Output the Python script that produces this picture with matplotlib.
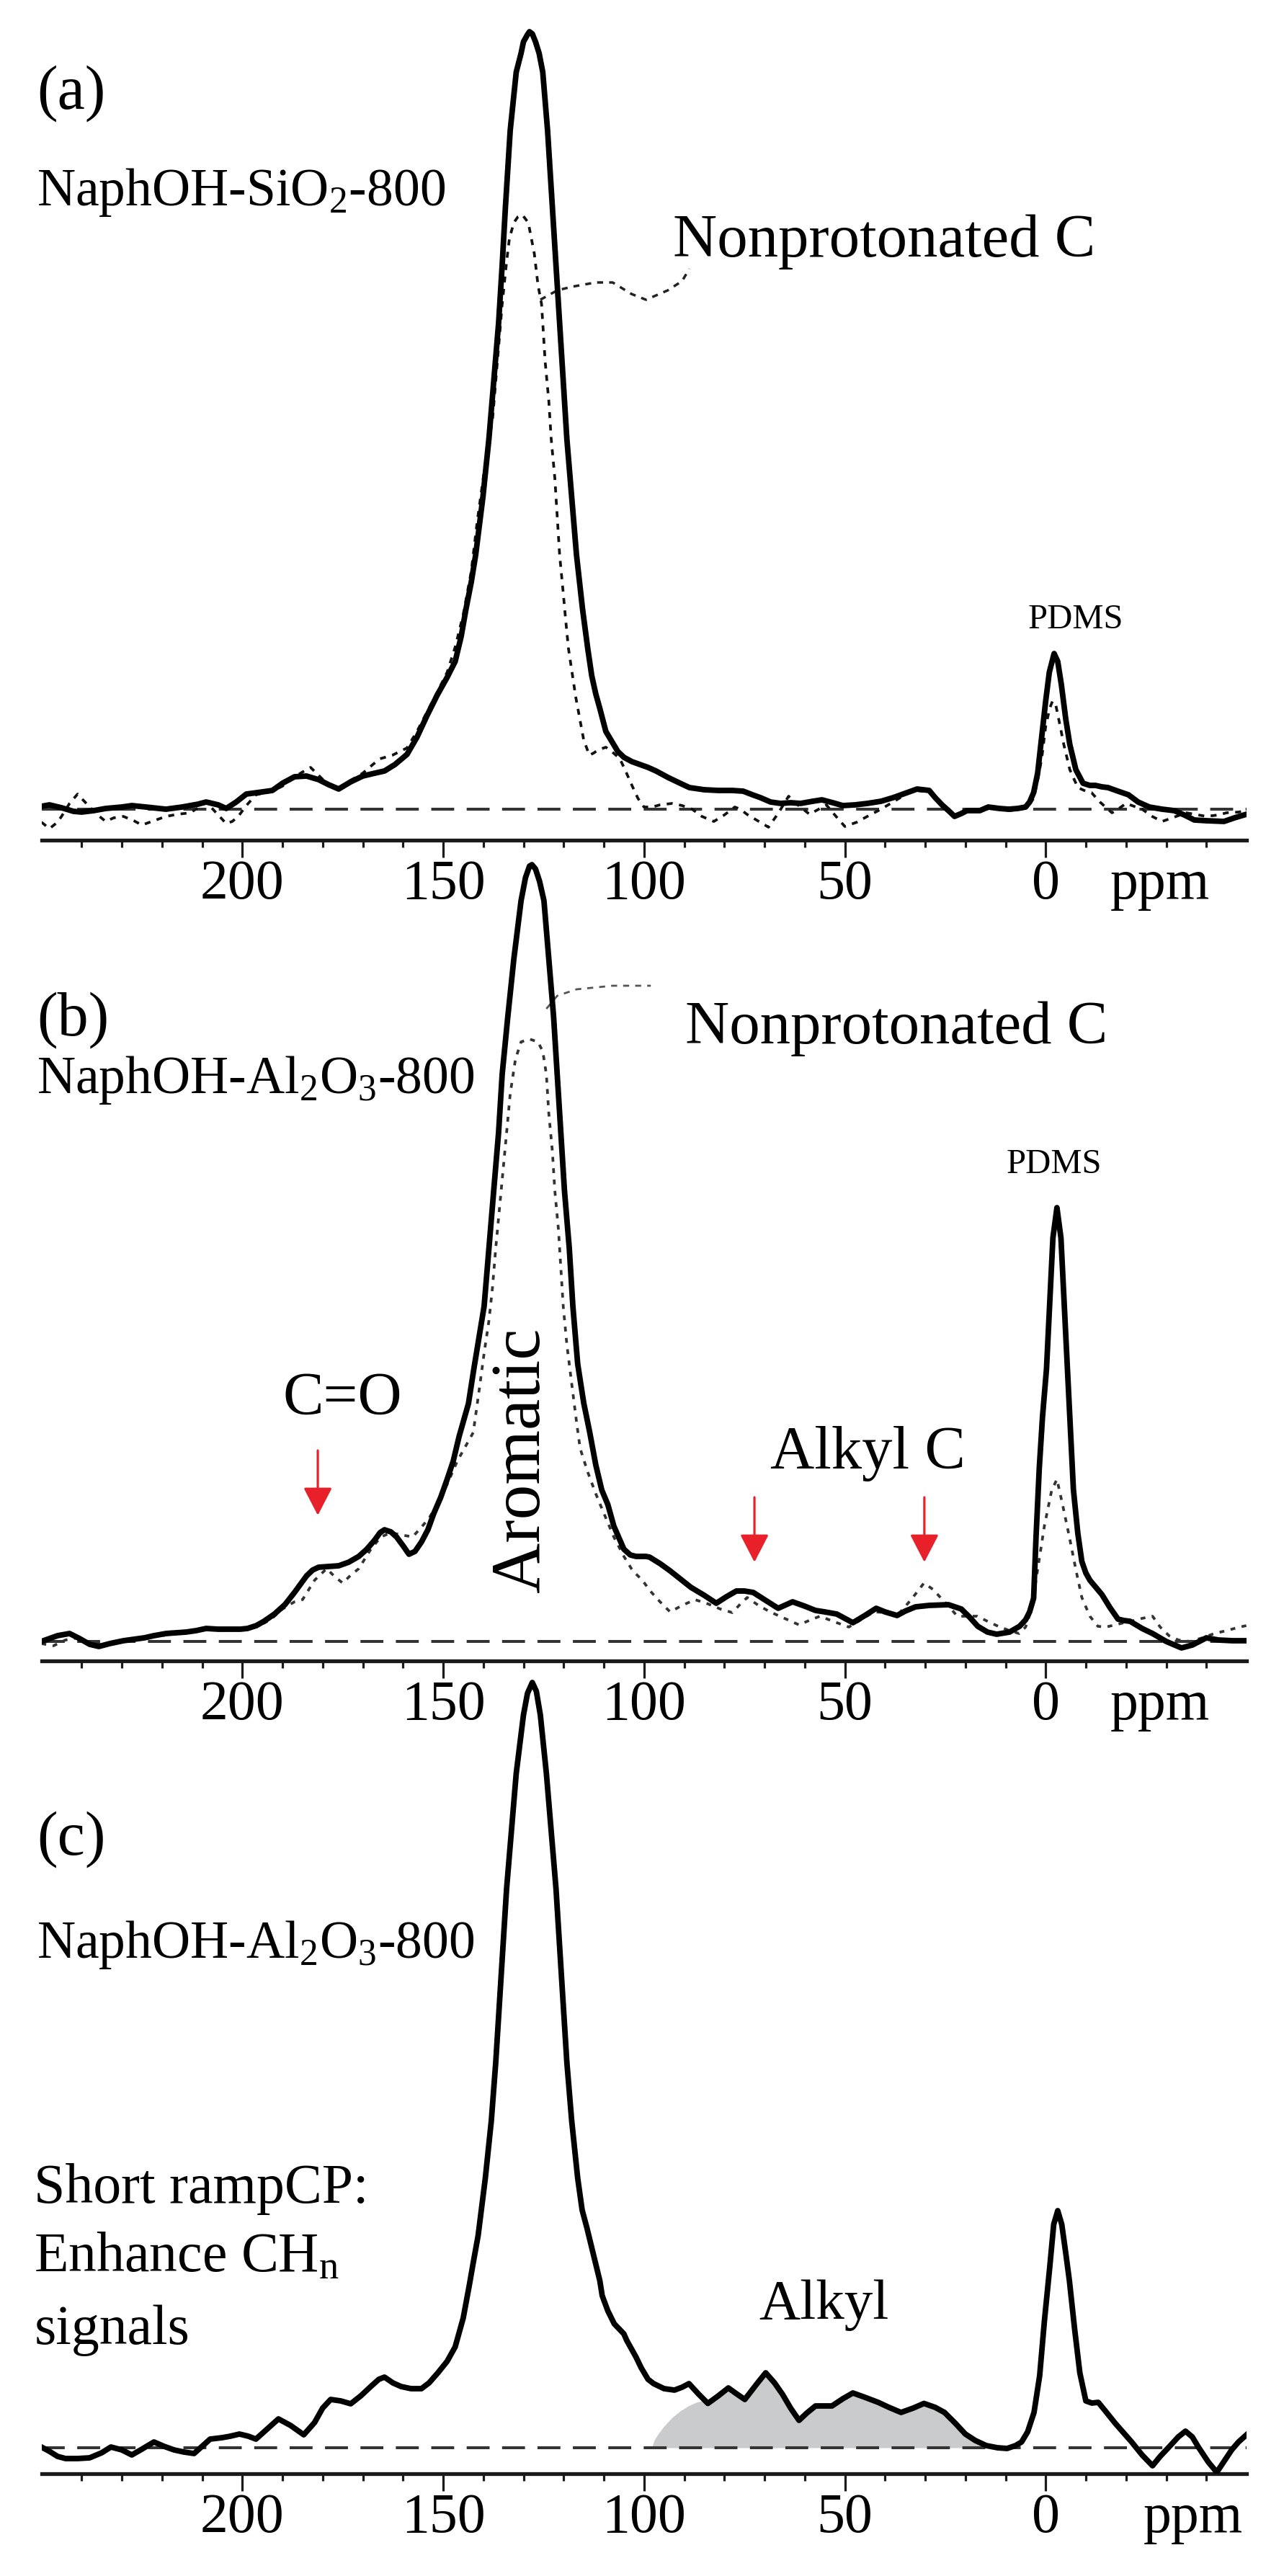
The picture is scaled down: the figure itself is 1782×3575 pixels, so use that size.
import matplotlib
matplotlib.use("Agg")
import matplotlib.pyplot as plt
import numpy as np

plt.rcParams['font.family'] = ['Liberation Serif', 'DejaVu Serif']
plt.rcParams['mathtext.fontset'] = 'custom'
plt.rcParams['mathtext.rm'] = 'Liberation Serif'
plt.rcParams['mathtext.it'] = 'Liberation Serif:italic'

# ---------------- data (ppm, intensity in arbitrary units) ----------------
a_solid_ppm = [250, 248, 245, 242, 240, 237, 234, 230, 227.5, 224, 219, 215, 211, 209, 206, 204, 201.5, 199, 195,
               192.5, 190, 187, 184, 181, 178.5, 176, 173, 170, 167, 164.6, 162, 159, 156.5, 154, 151.5, 149, 147,
               145.5, 144.3, 143, 141.9, 140.1, 138.6, 137.4, 136.2, 135.3, 134.5, 133.3, 131.8, 130.6, 130, 129,
               128.5, 127.8, 127, 126.1, 125.2, 124, 122.8, 121.9, 121, 120.1, 119.2, 118, 116.8, 115.3, 114, 113,
               112, 111, 109.5, 108, 106.5, 105, 103, 101, 99, 97, 94, 91, 88.7, 85, 81.5, 78, 75.3, 73, 71, 68.5,
               66, 63.5, 61, 58, 55.7, 53, 50.5, 47.5, 44.4, 41, 38, 35, 32, 29, 27.5, 25.8, 24, 22.7, 21, 19.6,
               16.4, 14.3, 11.5, 9.2, 7, 5, 4, 3, 2, 1.2, 0, -0.9, -2.1, -3, -3.9, -5, -6, -7.5, -9.3, -11, -12.4,
               -14, -15.5, -18, -20.6, -23, -25.8, -29, -32, -34.5, -37, -40, -44.4, -47, -50]
a_solid_int = [4, 6, 2, -3, -4, -2, 1, 3, 5, 3, 0, 3, 7, 10, 6, 1, 10, 21, 24,
               26, 36, 45, 46, 41, 34, 28, 38, 46, 50, 53, 62, 76, 100, 130, 158, 183, 205,
               240, 278, 315, 353, 433, 514, 594, 674, 755, 835, 942, 1023, 1049, 1065, 1075,
               1079, 1076, 1065, 1049, 1023, 942, 835, 755, 674, 594, 514, 433, 353, 278, 223, 185,
               160, 140, 108, 94, 80, 72, 66, 62, 58, 53, 44, 36, 30, 27, 26, 26, 25, 20, 16, 10,
               8, 9, 8, 11, 13, 9, 5, 6, 8, 11, 16, 22, 28, 26, 16, 6, -3, -10, -6, -2,
               -2, 3, 1, 0, 1, 3, 10, 23, 50, 90, 150, 190, 216, 205, 173, 125, 90, 55, 36, 33, 33,
               31, 30, 25, 20, 10, 3, 0, -2, -8, -15, -16, -17, -12, -7]

a_dash_ppm = [250, 248, 246, 245, 243, 241, 239.5, 238, 236, 234, 232, 229.6, 227, 225, 222, 219, 216, 213, 211,
              209, 206.5, 204, 202.5, 201, 199, 196.6, 192.5, 190, 188, 185.5, 183, 181, 179, 176, 173, 170,
              167.5, 165.7, 162.6, 159, 156.5, 154, 151.5, 149, 147, 145, 143, 141.5, 139.5, 137.7, 136.5,
              135.3, 134.2, 133.5, 132.4, 131.4, 130.3, 128.8, 127.3, 126.4, 125.5, 125.2, 124.6, 123.7, 123.1,
              122.2, 121.6, 121, 120.1, 119.5, 118.8, 117, 115, 113.6, 112.5, 111.5, 109.5, 108, 106, 104.5,
              103, 101.5, 100, 98, 96, 93, 90.5, 88, 85.6, 82.6, 80, 77.4, 76, 74.4, 72, 69, 66.5, 64, 61.5,
              58.8, 56.5, 54.6, 52.5, 50, 47, 44.4, 41, 38, 35, 32.5, 29, 27, 25.5, 23, 21, 19, 16, 13, 9, 6,
              4.5, 3, 2, 1, 0, -1, -1.7, -2.5, -3.5, -4.5, -6, -8, -10, -11.4, -13.5, -16.5, -18, -20, -22,
              -24, -26.5, -29, -31.5, -35, -38, -40, -43, -45, -48, -50]
a_dash_int = [-18, -27, -18, -10, 8, 21, 12, 3, -8, -17, -12, -10, -16, -22, -16, -10, -7, -5, 2,
              10, -5, -20, -17, -10, 5, 20, 25, 32, 40, 50, 58, 47, 36, 30, 40, 50,
              62, 70, 75, 85, 108, 135, 162, 190, 225, 270, 330, 400, 480, 541, 621,
              701, 760, 792, 814, 822, 825, 814, 771, 728, 701, 675, 621, 567, 514,
              460, 407, 353, 300, 263, 223, 156, 96, 75, 78, 82, 86, 80, 70, 52,
              33, 15, 3, 3, 6, 8, 5, 0, -10, -17, -8, 3, 0, -7, -15, -25, -5, 18, 5,
              -7, 0, 6, -8, -24, -18, -10, 0, 10, 20, 26, 24, 12, 3, -8, -7, -4, 0, 1, -2, 0,
              3, 15, 40, 70, 115, 140, 150, 145, 118, 90, 55, 30, 25, 23, 10, -5, 0, 8, 4,
              0, -10, -17, -12, -5, -8, -10, -8, -5, -4, -2]

b_solid_ppm = [250, 248, 246, 243, 240.5, 238, 235.7, 233, 229.6, 227, 224.4, 222, 219, 216.5, 214, 211.5, 209,
               206, 203, 200.5, 198.7, 196.5, 194.6, 192, 189.4, 187, 184, 182.5, 181, 178.5, 176, 173.5, 171,
               169, 167, 165.7, 164.6, 163, 161.6, 160, 158.5, 157, 155.4, 153.8, 152.3, 150.6, 149, 147.5, 146,
               143.7, 142.3, 139.8, 138.6, 137.4, 136.2, 135.3, 133.9, 132.4, 130.6, 129.5, 128.5, 127.9, 127,
               126, 124.9, 123.7, 122.5, 121.6, 120.7, 119.8, 118.6, 117.7, 116.5, 115, 113.5, 112, 110.5, 109,
               107.5, 105, 103.4, 102, 99.5, 98.6, 96, 93.5, 91, 88.3, 85, 82, 79.5, 77, 75, 72.8, 70, 66.6, 65,
               63, 60, 57.3, 55, 52, 50, 48, 45, 42.2, 40, 37, 35, 32.4, 29, 24.2, 21, 19, 16.9, 14.5, 12.2, 9,
               6.5, 5, 4, 3, 2.4, 1.6, 0.8, -0.2, -1, -1.8, -2.8, -3.8, -4.6, -5.4, -6.2, -6.9, -8, -9, -10, -11,
               -12.5, -14, -16, -18, -19.5, -21, -24, -26.6, -30, -33.8, -36.5, -40, -43, -46.5, -50]
b_solid_int = [0, 4, 8, 11, 4, -4, -7, -3, 1, 3, 5, 8, 11, 12, 13, 15, 18,
               17, 17, 17, 18, 22, 28, 38, 51, 68, 91, 99, 103, 104, 105, 110, 118,
               128, 141, 151, 155, 152, 145, 133, 121, 125, 138, 155, 178, 200, 225, 250, 285,
               330, 380, 465, 546, 626, 706, 787, 867, 947, 1028, 1060, 1076, 1078, 1072,
               1055, 1028, 947, 867, 787, 706, 626, 546, 465, 385, 331, 290, 245, 210, 190,
               160, 128, 120, 118, 118, 117, 108, 98, 87, 75, 64, 53, 62, 70, 70, 68, 58, 46, 50,
               55, 49, 43, 41, 38, 32, 26, 36, 46, 41, 36, 42, 48, 50, 51, 45, 34, 21, 13, 10, 13,
               21, 30, 41, 60, 145, 240, 311, 378, 470, 560, 602, 560, 470, 378, 290, 211, 150, 111, 95, 85,
               75, 65, 47, 31, 29, 28, 18, 11, 0, -9, -5, 5, 2, 1, 1]

b_dash_ppm = [250, 247, 244, 241, 238, 235, 231, 227, 224, 220, 216, 212, 208, 204, 200, 196.5, 193, 190, 187,
              185, 182, 179, 177, 175, 173, 171, 168, 165.5, 163, 160.5, 157.6, 155.5, 153.5, 151, 149, 146.5,
              142.5, 141, 139.8, 138.6, 137.7, 136.9, 136, 135.1, 134.2, 133.3, 132, 130.6, 128.5, 126.4, 125.2,
              124.3, 123.7, 122.8, 122.2, 121.3, 120.7, 120.1, 119.2, 118, 116.8, 115.9, 114, 112, 110, 107.5,
              105, 102.8, 100.4, 98.6, 96, 93.5, 90.5, 87.3, 84, 81, 78, 76, 74.3, 71.5, 68.6, 65, 61.4, 58.5,
              56.2, 52.5, 49, 46, 42.8, 39.5, 36.6, 33.5, 30.3, 28, 26.2, 24, 22, 19.5, 17, 14.5, 11.8, 9, 6.6,
              5, 3.5, 2, 0.3, -1.5, -2.8, -4.2, -5.9, -7.5, -9, -11, -13, -15, -17.3, -19.5, -21.3, -24, -26.6,
              -28.5, -30.7, -33, -36, -39, -42, -45, -48.3, -50]
b_dash_int = [-3, -6, 2, 5, -2, -4, 0, 3, 6, 8, 12, 15, 18, 15, 17, 20, 30, 45, 55,
              58, 85, 101, 90, 81, 92, 101, 128, 145, 151, 148, 145, 158, 171, 195, 218, 250,
              290, 350, 400, 445, 492, 546, 599, 653, 706, 760, 808, 832, 836, 832, 819,
              787, 733, 680, 626, 572, 519, 465, 412, 358, 305, 268, 235, 205, 178, 145,
              118, 98, 85, 71, 55, 41, 50, 58, 52, 45, 40, 52, 61, 50, 41, 32, 23, 30,
              35, 27, 20, 30, 41, 40, 38, 58, 81, 72, 61, 48, 35, 35, 35, 28, 21, 15, 11,
              20, 45, 100, 161, 210, 225, 190, 145, 100, 61, 35, 21, 20, 23, 26, 28, 32, 35,
              20, 8, 2, 0, 5, 11, 15, 20, 22]

c_solid_ppm = [250, 248, 246, 244, 241, 238, 235, 232.7, 230, 227.5, 225, 222, 219.5, 217, 214.5, 212, 210, 208,
               205, 203, 200.7, 198.5, 196.6, 194, 191, 188, 184.7, 182, 180, 178, 175.5, 173, 170.5, 168, 166,
               164.6, 162.5, 160.5, 158, 155.4, 153.5, 151.3, 149, 147, 145, 143.5, 142.5, 141.3, 139.5, 138,
               136.9, 136, 135.1, 134.2, 133, 131.8, 130, 129, 127.8, 126.8, 125.8, 124.3, 123.1, 121.9, 121,
               120.1, 119.2, 118, 116.5, 115.4, 114.2, 112, 111, 110.4, 109, 107.4, 105, 104.3, 102, 100.7, 99,
               97.6, 95, 92.4, 90.5, 88.8, 86.5, 84.1, 81.5, 79, 77, 74.9, 72, 69.7, 67.5, 65.5, 63.5, 61.4,
               59.5, 57.3, 55, 53.2, 50.5, 48, 45, 41.7, 39, 36, 33, 30.3, 27.5, 25.2, 22.5, 20, 17.5, 14.8, 12,
               9.6, 7.5, 6, 4.5, 2.9, 1.5, 0.3, -1, -2, -3, -4, -5, -5.9, -7.2, -8.5, -10, -11.5, -13.1, -15,
               -17.3, -19.5, -21.4, -24, -26.6, -28.5, -30.7, -33, -34.8, -36.5, -38, -40.5, -42.6, -44.5, -46.3,
               -48, -49.9]
c_solid_int = [1, -5, -12, -15, -15, -14, -7, 1, -3, -10, -2, 8, 2, -3, -6, -8, 2, 12,
               14, 16, 19, 16, 12, 25, 40, 31, 18, 35, 55, 67, 65, 61, 72, 85, 95,
               98, 90, 85, 82, 82, 90, 104, 120, 140, 180, 225, 257, 294, 374, 454,
               535, 615, 695, 776, 856, 936, 1017, 1047, 1062, 1050, 1017, 936, 856, 776, 695,
               615, 535, 454, 374, 330, 305, 255, 232, 211, 190, 172, 158, 149, 126, 111, 95,
               89, 82, 80, 84, 89, 75, 61.5, 72, 83, 75, 67, 88, 104, 90, 74, 55, 38,
               48, 58, 58, 58, 68, 76, 70, 63, 56, 49, 55, 61.5, 56, 49, 34, 19, 10, 3, 0,
               -1, 3, 8, 22, 49, 100, 177, 250, 310, 329, 310, 270, 232, 165, 104, 65, 62, 63, 50,
               34, 20, 8, -10, -25, -12, 1, 15, 23, 15, 1, -20, -34, -18, -3,
               8, 17.5]

# left shoulder of the shaded alkyl region (panel c)
c_fill_ppm = [98.1, 97.5, 96.5, 95, 93, 91, 89, 87, 85]
c_fill_int = [0, 10, 19, 30, 42, 51, 58, 63, 66]
c_fill_end = 14.8

major_ticks = [200, 150, 100, 50, 0]
major_labels = ['200', '150', '100', '50', '0']
minor_ticks = [240, 230, 220, 210, 190, 180, 170, 160, 140, 130, 120, 110, 90, 80, 70, 60,
               40, 30, 20, 10, -10, -20, -30, -40]

# ---------------- figure ----------------
W, H = 1782, 3575
fig = plt.figure(figsize=(W / 100, H / 100), dpi=100)

x_left, x_right = 57.5, 1730
YTOP = 1098

panels = {
    'a': dict(axis_y=1166, base_y=1123),
    'b': dict(axis_y=2305, base_y=2278),
    'c': dict(axis_y=3433, base_y=3397),
}

RED = '#e8202a'
SOLID_LW = 5.6


def make_axes(axis_y, base_y, ppm_x):
    bottom = -(axis_y - base_y)
    h_px = YTOP - bottom
    ax = fig.add_axes([x_left / W, 1 - axis_y / H, (x_right - x_left) / W, h_px / H])
    ax.set_xlim(250, -50)
    ax.set_ylim(bottom, YTOP)
    for s in ['top', 'left', 'right']:
        ax.spines[s].set_visible(False)
    ax.spines['bottom'].set_linewidth(3.8)
    ax.spines['bottom'].set_color('#1a1a1a')
    ax.set_yticks([])
    ax.set_xticks(major_ticks)
    ax.set_xticklabels(major_labels)
    ax.set_xticks(minor_ticks, minor=True)
    ax.tick_params(axis='x', which='major', direction='out', length=17.3, width=2.3,
                   labelsize=56, pad=2, color='#1a1a1a')
    ax.tick_params(axis='x', which='minor', direction='out', length=7, width=2.3, color='#1a1a1a')
    ax.patch.set_alpha(0)
    ax.axhline(0, color='#333333', lw=2.9, ls=(0, (7.9, 4.3)), zorder=1)
    ax.annotate('ppm', xy=(ppm_x, 0), xycoords=('data', 'axes fraction'),
                xytext=(0, -19.3), textcoords='offset points', ha='center', va='top',
                fontsize=56, annotation_clip=False)
    return ax


def red_arrow(ax, x, y0, y1):
    ax.annotate('', xy=(x, y1), xytext=(x, y0),
                arrowprops=dict(arrowstyle='-|>,head_length=1.2,head_width=0.62',
                                color=RED, lw=2.3, shrinkA=0, shrinkB=0, mutation_scale=20),
                annotation_clip=False)


# ---- panel (a)
ax = make_axes(panels['a']['axis_y'], panels['a']['base_y'], -28.5)
ax.plot(a_dash_ppm, a_dash_int, color='#111111', lw=2.7, ls=(0, (2.2, 2.4)), zorder=2)
ax.plot(a_solid_ppm, a_solid_int, color='black', lw=SOLID_LW, zorder=3, solid_joinstyle='round')
ax.plot([125.8, 121.6, 118.0, 112.0, 107.8, 103.1, 99.5, 94.1, 90.5, 88.7],
        [707, 720, 725, 731, 731, 715, 707, 720, 733, 750],
        color='#222222', lw=2.5, ls=(0, (2.4, 2.4)), zorder=2)
ax.text(251.2, 993, '(a)', fontsize=62, ha='left', va='center')
ax.text(251.2, 838, r'NaphOH-SiO$_{\mathrm{2}}$-800', fontsize=53, ha='left', va='baseline')
ax.text(40.2, 767, 'Nonprotonated C', fontsize=61, ha='center', va='baseline')
ax.text(-7.5, 251, 'PDMS', fontsize=35, ha='center', va='baseline')

# ---- panel (b)
ax = make_axes(panels['b']['axis_y'], panels['b']['base_y'], -28.5)
ax.plot(b_dash_ppm, b_dash_int, color='#333333', lw=2.7, ls=(0, (1.8, 2.4)), zorder=2)
ax.plot(b_solid_ppm, b_solid_int, color='black', lw=SOLID_LW, zorder=3, solid_joinstyle='round')
ax.plot([124.3, 121.6, 116.8, 107.8, 98.3], [878, 896, 905, 910, 910],
        color='#555555', lw=2.0, ls=(0, (3, 3)), zorder=2)
ax.text(251.2, 862, '(b)', fontsize=62, ha='left', va='center')
ax.text(251.2, 761, r'NaphOH-Al$_{\mathrm{2}}$O$_{\mathrm{3}}$-800', fontsize=53, ha='left', va='baseline')
ax.text(37.2, 830, 'Nonprotonated C', fontsize=61, ha='center', va='baseline')
ax.text(-2.1, 650, 'PDMS', fontsize=35, ha='center', va='baseline')
ax.text(175.1, 315, 'C=O', fontsize=61, ha='center', va='baseline')
ax.text(130.3, 252, 'Aromatic', fontsize=70, ha='center', va='center', rotation=90, zorder=4)
ax.text(44.2, 240, 'Alkyl C', fontsize=61, ha='center', va='baseline')
red_arrow(ax, 181.2, 265, 175)
red_arrow(ax, 72.5, 200, 110)
red_arrow(ax, 30.2, 200, 110)

# ---- panel (c)
ax = make_axes(panels['c']['axis_y'], panels['c']['base_y'], -36.7)
seg_ppm = [p for p in c_solid_ppm if c_fill_end <= p < c_fill_ppm[-1]]
seg_int = [v for p, v in zip(c_solid_ppm, c_solid_int) if c_fill_end <= p < c_fill_ppm[-1]]
ax.fill_between(c_fill_ppm + seg_ppm, 0, c_fill_int + seg_int, color='#c9cbcd', lw=0, zorder=0.5)
ax.plot(c_solid_ppm, c_solid_int, color='black', lw=SOLID_LW, zorder=3, solid_joinstyle='round')
ax.text(251.2, 844, '(c)', fontsize=62, ha='left', va='center')
ax.text(251.2, 680, r'NaphOH-Al$_{\mathrm{2}}$O$_{\mathrm{3}}$-800', fontsize=53, ha='left', va='baseline')
ax.text(251.8, 340, 'Short rampCP:', fontsize=56, ha='left', va='baseline')
ax.text(251.8, 245, r'Enhance CH$_{\mathrm{n}}$', fontsize=56, ha='left', va='baseline')
ax.text(251.8, 144, 'signals', fontsize=56, ha='left', va='baseline')
ax.text(55.3, 179, 'Alkyl', fontsize=57, ha='center', va='baseline')

fig.savefig('out.png', dpi=100)
